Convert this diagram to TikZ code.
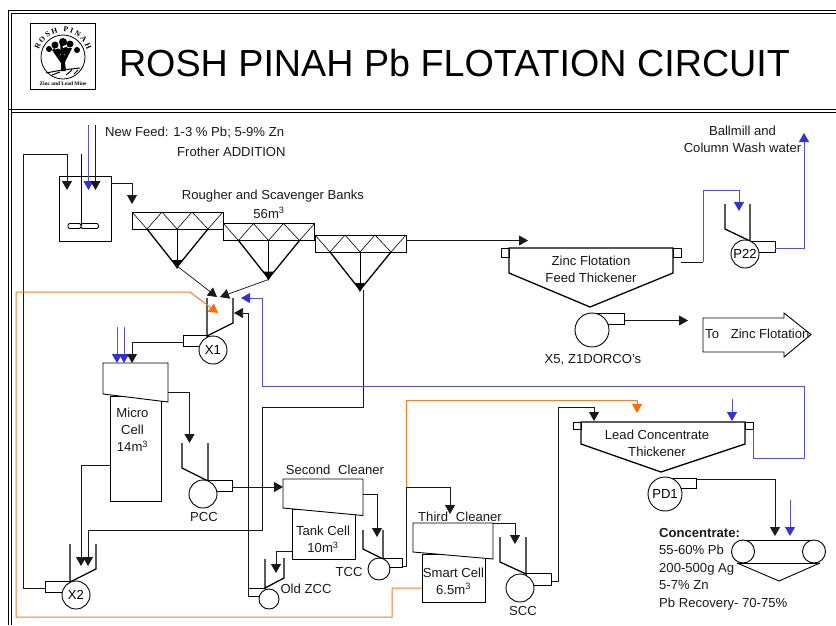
\documentclass[tikz,border=0pt]{standalone}
\usepackage{fontspec}
\setmainfont{Liberation Sans}
\newfontfamily\logofont{Liberation Serif}
\usetikzlibrary{arrows.meta, decorations.text}
\definecolor{wblue}{RGB}{50,50,215}
\definecolor{lblue}{RGB}{80,80,230}
\definecolor{porange}{RGB}{255,105,10}
\definecolor{lorange}{RGB}{255,120,40}
\definecolor{ink}{RGB}{25,25,25}

\begin{document}
\begin{tikzpicture}[x=1pt, y=-1pt, line join=miter,
  lbl/.style={font=\fontsize{13.1}{15}\selectfont, text=ink, inner sep=0pt, align=center},
  pump/.style={draw, circle, fill=white, line width=0.9pt, inner sep=0pt, font=\fontsize{13.1}{15}\selectfont},
  wall/.style={line width=1.3pt},
  shell/.style={line width=0.9pt},
  body/.style={draw, fill=white, line width=0.9pt, inner sep=0pt, anchor=north west},
  pipe/.style={line width=0.75pt, ink},
  arr/.style={pipe, -{Triangle[length=9pt,width=10pt]}},
  warr/.style={line width=0.85pt, lblue, -{Triangle[length=9pt,width=10pt,wblue]}},
  oarr/.style={line width=1pt, lorange, -{Triangle[length=9pt,width=10pt,porange]}}
]
\useasboundingbox (0,0) rectangle (836,625);
% frame
\draw[line width=0.8pt] (8,625) |- (836,10) (11.5,625) |- (836,13);
\draw[line width=0.8pt] (8,109) -- (836,109) (11.5,112) -- (836,112);
\draw[line width=0.8pt] (11.5,13) -- (11.5,109);
% title and logo
\node[inner sep=0pt, font=\fontsize{37.7}{40}\selectfont, text=black] (title) at (454.5,63) {ROSH PINAH Pb FLOTATION CIRCUIT};
\draw[line width=0.8pt] (30,23) rectangle (95,89);
\node[draw, circle, line width=0.8pt, minimum size=44pt, inner sep=0pt] (logo) at (63,57) {};
\path[decorate, decoration={text along path, text align={fit to path},
  text={|\fontsize{7.6}{8}\logofont\bfseries|ROSH  PINAH}}] (63,57) ++(197:25) arc[start angle=197, end angle=343, radius=25];
\fill (61,71) -- (66,71) -- (65,62) -- (72,48) -- (69,48) -- (64,56) -- (62,42) -- (60,42) -- (61,56) -- (54,48) -- (52,50) -- (61,63) -- cycle;
\fill (49,49) circle[radius=3] (55,45) circle[radius=3.5] (63,42) circle[radius=4] (70,44) circle[radius=3.5] (77,50) circle[radius=3] (66,51) circle[radius=4] (58,52) circle[radius=3.5];
\draw[line width=1pt] (46,73) -- (62,70) -- (80,68) (52,75) -- (60,72) (66,75) -- (72,70) (74,74) -- (78,70);
\node[inner sep=0pt, font=\fontsize{5.4}{6}\logofont\bfseries] (mine) at (63,84) {Zinc and Lead Mine};

% feed tank
\draw[shell] (59,176) rectangle (111,241);
\draw[shell] (81,154) -- (81,226);
\draw[shell, rounded corners=2pt] (68,223.5) rectangle (81,228.5) (81,223.5) rectangle (98.5,228.5);
\coordinate (ft1) at (67,190);
\coordinate (ft2) at (88.5,190);
\coordinate (ft3) at (95.5,190);
\coordinate (ftw) at (88.5,125);
\coordinate (ftf) at (95.5,125);
\coordinate (fto) at (111,183);
\draw[warr] (ftw) -- (ft2);
\draw[arr] (ftf) -- (ft3);
\node[lbl, anchor=west] (feed) at (105,133) {New Feed: 1-3 \% Pb; 5-9\% Zn};
\node[lbl, anchor=west] (froth) at (177,152) {Frother ADDITION};

% rougher banks
\foreach \nm/\dx/\dy in {a/0/0, b/91.5/11.5, c/183/23} {
  \begin{scope}[shift={(\dx,\dy)}]
    \draw[shell] (132,212) rectangle (223,229);
    \draw[line width=0.6pt] (132,212) -- (147,229) -- (162,212) -- (177,229) -- (192,212) -- (208,229) -- (223,212);
    \draw[wall] (147,229) -- (177,267) -- (208,229);
    \draw[shell] (177,229) -- (177,262);
    \fill (172,260) -- (182,260) -- (177,269) -- cycle;
    \coordinate (bank\nm) at (177,268);
  \end{scope}
}
\coordinate (bankin) at (132,204);
\coordinate (banko) at (406,240.5);
\coordinate (ztin) at (528,240.5);
\draw[arr] (fto) -| (bankin);
\draw[arr] (banko) -- (ztin);
\node[lbl] (bklbl) at (273,196) {Rougher and Scavenger Banks};
\node[lbl] (bkvol) at (269,213) {56m\textsuperscript{3}};

% X1
\draw[wall] (207,298) -- (207,336) -- (233,323) -- (233,298);
\draw[shell] (183,335) rectangle (207,346);
\node[pump, minimum size=28pt] (x1) at (213,350) {X1};
\coordinate (x1a) at (217,297);
\coordinate (x1b) at (220,297);
\coordinate (x1c) at (234,313);
\coordinate (x1d) at (241,298);
\coordinate (x1e) at (218,313);
\coordinate (x1o) at (183,342);
\draw[arr] ([yshift=2pt]banka) -- (x1a);
\draw[arr] (bankb) -- (x1b);

% micro cell
\node[body, minimum width=51pt, minimum height=105pt] (mcbody) at (110,396) {};
\draw[shell, fill=white] (103,363) -- (168,363) -- (168,402) -- (103,394) -- cycle;
\node[lbl] (mctxt) at (132.5,430) {Micro\\[2pt]Cell\\[2pt]14m\textsuperscript{3}};
\coordinate (mc1) at (117,363);
\coordinate (mc2) at (124,363);
\coordinate (mc3) at (132,363);
\coordinate (mw1) at (117,327);
\coordinate (mw2) at (124,327);
\coordinate (mco) at (168,392);
\coordinate (mct) at (110,465);
\draw[warr] (mw1) -- (mc1);
\draw[warr] (mw2) -- (mc2);
\draw[arr] (x1o) -| (mc3);

% PCC
\draw[wall] (182,443) -- (182,468) -- (208,481) -- (208,443);
\draw[shell] (208,480) rectangle (232,491);
\node[pump, minimum size=28pt] (pcc) at (203,494) {};
\node[lbl] (pcclbl) at (204,517) {PCC};
\coordinate (pccin) at (189.5,443);
\coordinate (pcco) at (232,487);
\draw[arr] (mco) -| (pccin);

% second cleaner
\node[body, minimum width=63pt, minimum height=50pt] (tkbody) at (292,509) {};
\draw[shell, fill=white] (283,479) -- (363,479) -- (363,515.5) -- (283,508) -- cycle;
\node[lbl] (sclbl) at (335,470) {Second\hspace{0.6em}Cleaner};
\node[lbl] (tktxt) at (323,539.5) {Tank Cell\\[2pt]10m\textsuperscript{3}};
\coordinate (scin) at (283,487);
\coordinate (sco) at (363,494);
\coordinate (tkt) at (292,551.5);
\draw[arr] (pcco) -- (scin);

% TCC
\draw[wall] (363,530) -- (363,549) -- (383,559) -- (383,530);
\draw[shell] (383,558) rectangle (402,567);
\node[pump, minimum size=22pt] (tcc) at (379,569) {};
\node[lbl] (tcclbl) at (349,572) {TCC};
\coordinate (tccin) at (377,537);
\coordinate (tcco) at (402,566.5);
\coordinate (tccv) at (406.7,566.5);
\coordinate (tcct) at (406.7,487);
\draw[arr] (sco) -| (tccin);

% old ZCC
\draw[wall] (265,559) -- (265,588) -- (284,578) -- (284,558);
\draw[shell] (248,588) rectangle (265,596);
\node[pump, minimum size=20pt] (zcc) at (269,599) {};
\node[lbl] (zcclbl) at (306,589) {Old ZCC};
\coordinate (zccin) at (276,573);
\coordinate (zcco) at (248,596);
\draw[arr] (tkt) -| (zccin);
\draw[arr] (zcco) |- (x1c);

% third cleaner
\node[body, minimum width=63pt, minimum height=48pt] (smbody) at (422,554) {};
\draw[shell, fill=white] (413,523) -- (493,523) -- (493,559) -- (413,552) -- cycle;
\node[lbl] (tclbl) at (460,517) {Third\hspace{0.6em}Cleaner};
\node[lbl] (smtxt) at (453.5,581) {Smart Cell\\[2pt]6.5m\textsuperscript{3}};
\coordinate (tcin) at (450,514);
\coordinate (tco) at (493,523);
\coordinate (smo) at (422,588);
\draw[pipe] (tcco) -- (tccv) -- (tcct);
\draw[arr] (tcct) -| (tcin);

% SCC
\draw[wall] (500,537) -- (500,562) -- (526,574) -- (526,537);
\draw[shell] (526,573) rectangle (551,585);
\node[pump, minimum size=28pt] (scc) at (520,588) {};
\node[lbl] (scclbl) at (523,611) {SCC};
\coordinate (sccin) at (515,544);
\coordinate (scco) at (551,581);
\coordinate (sccv) at (558,581);
\draw[arr] (tco) -| (sccin);

% X2
\draw[wall] (70,544) -- (70,582) -- (96,569) -- (96,544);
\draw[shell] (45,581) rectangle (70,592);
\node[pump, minimum size=28pt] (x2) at (76,595) {X2};
\coordinate (x2a) at (81,566);
\coordinate (x2b) at (88,566);
\coordinate (x2o) at (45,588);
\coordinate (x2t) at (23.5,154);
\draw[arr] (mct) -| (x2a);
\draw[arr] (x2o) -- (23.5,588) -- (x2t) -| (ft1);

% scavenger tail
\coordinate (sv1) at (363,290);
\coordinate (sv2) at (363,407);
\coordinate (sv3) at (262,407);
\coordinate (sv4) at (262,530);
\draw[arr] (sv1) -- (sv2) -- (sv3) -- (sv4) -| (x2b);

% lead thickener
\draw[wall, fill=white] (581,422) -- (745,422) -- (745,444) -- (661,472) -- (581,444) -- cycle;
\draw[shell] (573,422) rectangle (581,429) (745,422) rectangle (753,429);
\node[lbl] (ltxt) at (657,443) {Lead Concentrate\\[2pt]Thickener};
\coordinate (lt1) at (594,421);
\coordinate (lt2) at (637,413);
\coordinate (lt3) at (732,421);
\coordinate (lw) at (732,399);
\coordinate (lto) at (753,429);
\coordinate (lt4) at (558,407);
\coordinate (lt5) at (406.7,400);
\draw[arr] (scco) -- (sccv) -- (lt4) -| (lt1);
\draw[warr] (lw) -- (lt3);
\draw[oarr] (tcct) -- (lt5) -| (lt2);
% blue return
\coordinate (rt1) at (753,458);
\coordinate (rt2) at (804,386);
\coordinate (rt3) at (262,386);
\draw[warr] (lto) -- (rt1) -| (rt2) -- (rt3) |- (x1d);
% orange recycle
\coordinate (ro1) at (392,588);
\coordinate (ro2) at (16,617);
\coordinate (ro3) at (190,292);
\draw[oarr] (smo) -- (ro1) |- (ro2) |- (ro3) -- (x1e);

% PD1 and filter
\draw[shell] (670,478) -- (696,478) -- (696,488) -- (678,488);
\node[pump, minimum size=34pt] (pd1) at (665,494) {PD1};
\coordinate (pdo) at (696,479);
\coordinate (cvin) at (775,536);
\coordinate (cvw) at (790,536);
\coordinate (cvt) at (790,500);
\draw[arr] (pdo) -| (cvin);
\draw[warr] (cvt) -- (cvw);
\draw[shell] (741,540) -- (814,540) (737,563) -- (820,563);
\draw[shell] (737,563) -- (779,581) -- (820,563);
\node[pump, minimum size=23pt] (cvl) at (743,551.5) {};
\node[pump, minimum size=23pt] (cvr) at (814,551.5) {};
\node[lbl, anchor=north west, align=left, font=\fontsize{13.1}{17.5}\selectfont] (conc) at (659,528) {\textbf{Concentrate:}\\55-60\% Pb\\200-500g Ag\\5-7\% Zn\\Pb Recovery- 70-75\%};

% zinc thickener
\draw[wall, fill=white] (509,248) -- (673,248) -- (673,273) -- (590,307) -- (509,273) -- cycle;
\draw[shell] (501,248) rectangle (509,257) (673,248) rectangle (681,257);
\node[lbl] (ztxt) at (591,269.5) {Zinc Flotation\\[2pt]Feed Thickener};
\coordinate (zto) at (681,262);
\coordinate (zt1) at (703,262);
\draw[pipe] (zto) -- (zt1);

% P22
\draw[wall] (725,204) -- (725,229) -- (750,241) -- (750,204);
\draw[shell] (750,241) rectangle (775,252);
\node[pump, minimum size=28pt] (p22) at (745,254) {P22};
\coordinate (p22in) at (739,211);
\coordinate (p22t) at (703,190);
\coordinate (p22o) at (775,248);
\coordinate (wash) at (804,133);
\draw[warr] (zt1) -- (p22t) -| (p22in);
\draw[warr] (p22o) -| (wash);
\node[lbl] (wshtxt) at (742.5,139.5) {Ballmill and\\[2pt]Column Wash water};

% X5
\draw[shell] (597,313) -- (624,313) -- (624,324) -- (606,324);
\node[pump, minimum size=34pt] (x5) at (592,330) {};
\node[lbl] (x5lbl) at (593,360) {X5, Z1DORCO's};
\coordinate (x5o) at (624,320.5);
\coordinate (togo) at (688,320.5);
\draw[arr] (x5o) -- (togo);
\draw[shell] (703,318) -- (784,318) -- (784,313) -- (811,334.5) -- (784,357) -- (784,352) -- (703,352) -- cycle;
\node[lbl, anchor=west] (zfl) at (705,334) {To\hspace{0.9em}Zinc Flotation};
\end{tikzpicture}
\end{document}
